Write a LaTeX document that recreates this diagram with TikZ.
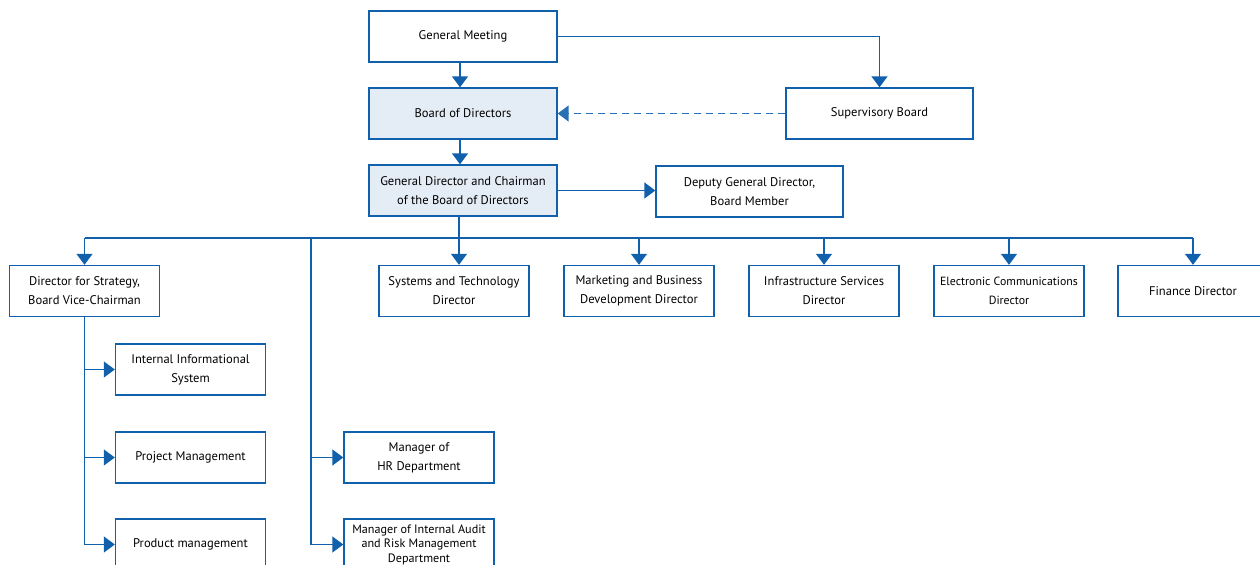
\documentclass[tikz,border=0pt]{standalone}
\usepackage{fontspec}
\setmainfont{PT Sans}
\usetikzlibrary{arrows.meta}
\definecolor{orgblue}{RGB}{16,96,172}
\definecolor{orgfill}{RGB}{228,236,246}
\tikzset{
	box/.style={draw=orgblue, line width=1.4bp, fill=white, minimum height=51bp, inner sep=0pt, align=center, font=\fontsize{12.6}{19}\selectfont},
	wbox/.style={box, minimum width=188bp},
	sbox/.style={box, minimum width=150bp},
	link/.style={draw=orgblue, line width=1.5bp},
	arr/.style={link, -{Triangle[width=16bp,length=11bp]}},
}

\begin{document}
\begin{tikzpicture}[x=1bp, y=-1bp]
			%%%%% START %%%%%
			
			\useasboundingbox (0, 0) rectangle (1260, 565);
			\clip (0, 0) rectangle (1260, 565);
			
			\node[wbox] (gm) at (463, 36.5) {General Meeting};
			\node[wbox, fill=orgfill] (bod) at (463, 113.5) {Board of Directors};
			\node[wbox, fill=orgfill] (gd) at (463, 190.5) {General Director and Chairman\\of the Board of Directors};
			\node[wbox, minimum width=187bp] (sb) at (879.5, 113.5) {Supervisory Board};
			\node[wbox, minimum width=187bp] (dep) at (749.5, 191.5) {Deputy General Director,\\Board Member};
			
			\node[sbox] (strat) at (84.5, 291) {Director for Strategy,\\Board Vice-Chairman};
			\node[sbox] (sys) at (454, 291) {Systems and Technology\\Director};
			\node[sbox] (mkt) at (639, 291) {Marketing and Business\\Development Director};
			\node[sbox] (infra) at (824, 291) {Infrastructure Services\\Director};
			\node[sbox, font=\fontsize{11.9}{19}\selectfont] (ecd) at (1009, 291) {Electronic Communications\\Director};
			\node[sbox] (fin) at (1193, 291) {Finance Director};
			
			\node[sbox] (iis) at (190.5, 369.5) {Internal Informational\\System};
			\node[sbox] (proj) at (190.5, 457.5) {Project Management};
			\node[sbox] (prod) at (190.5, 544.5) {Product management};
			\node[sbox] (hr) at (419, 457.5) {Manager of\\HR Department};
			\node[sbox, font=\fontsize{12.2}{14.5}\selectfont] (audit) at (419, 544.5) {Manager of Internal Audit\\and Risk Management\\Department};
			
			\coordinate (bus) at (0, 238);
			\coordinate (hrline) at (311, 238);
			
			\draw[arr] ([xshift=-3bp]gm.south) -- ([xshift=-3bp]bod.north);
			\draw[arr] ([xshift=-3bp]bod.south) -- ([xshift=-3bp]gd.north);
			\draw[arr] (gm.east) -| (sb.north);
			\draw[arr, dash pattern=on 7bp off 5bp, draw=orgblue!90] (sb.west) -- (bod.east);
			\draw[arr] (gd.east) -- (dep.west |- gd.east);
			
			\draw[link] (strat.north |- bus) -- (fin.north |- bus);
			\draw[arr] ([xshift=-4bp]gd.south) -- ([xshift=-4bp]gd.south |- sys.north);
			\foreach \n in {strat, mkt, infra, ecd, fin}
				\draw[arr] (\n.north |- bus) -- (\n.north);
			
			\draw[link] (strat.south) -- (strat.south |- prod.west);
			\foreach \n in {iis, proj, prod}
				\draw[arr] (strat.south |- \n.west) -- (\n.west);
			
			\draw[link] (hrline) -- (hrline |- audit.west);
			\foreach \n in {hr, audit}
				\draw[arr] (hrline |- \n.west) -- (\n.west);
			
			%%%%% END %%%%%
\end{tikzpicture}
\end{document}
